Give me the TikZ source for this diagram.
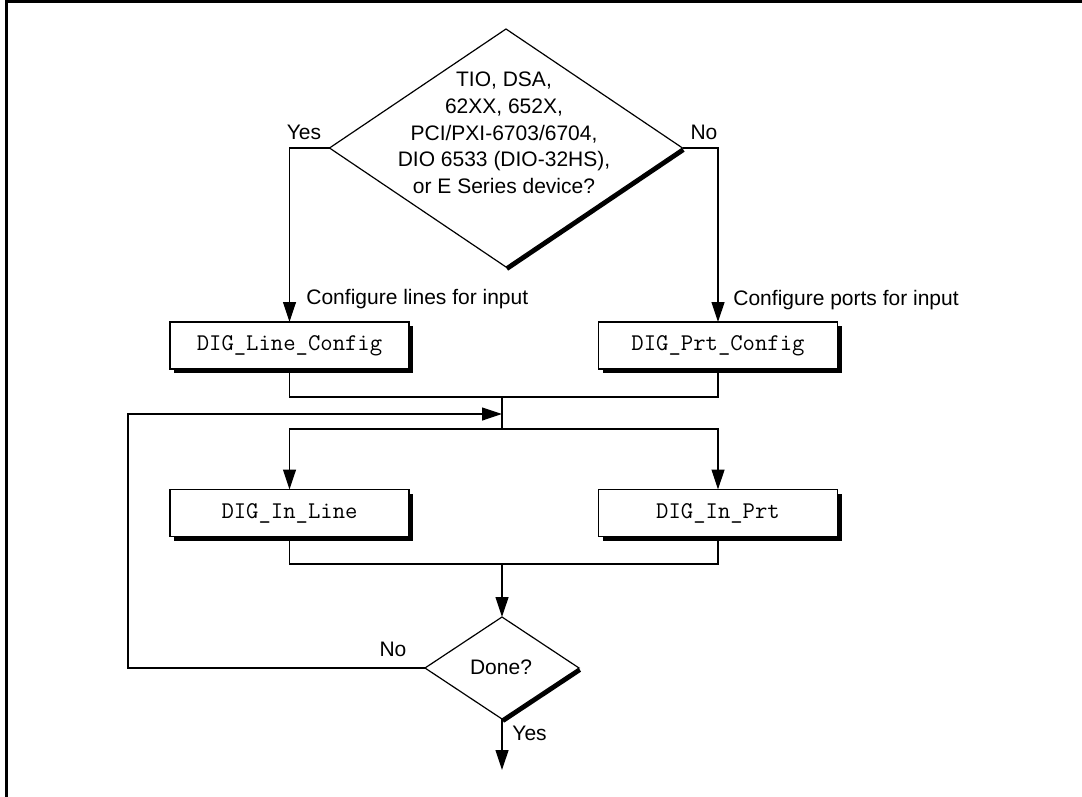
\documentclass[tikz,border=0pt]{standalone}
\usepackage{fontspec}
\setmainfont{Liberation Sans}
\usepackage{tikz}
\usetikzlibrary{arrows.meta}
\usetikzlibrary{positioning, shapes.geometric, shadows}
\tikzset{
call box/.style = { rectangle, draw = black, fill = white, line width = 0.6pt, minimum width = 119.5pt, minimum height = 23.5pt, inner sep = 0pt, outer sep = 0pt, font = \ttfamily\fontsize{12}{13}\selectfont, drop shadow = {shadow xshift = 2pt, shadow yshift = -2pt, fill = black, opacity = 1} },
test/.style = { diamond, draw = black, fill = white, line width = 0.6pt, inner sep = 0pt, outer sep = 0pt },
lbl/.style = { inner sep = 0pt, font = \fontsize{10.5}{13.35}\selectfont },
flow/.style = { draw = black, line width = 0.6pt },
arr/.style = { flow, -{Triangle[length = 10pt, width = 6.5pt]} },
}

\begin{document}
\begin{tikzpicture}[x=0.5pt, y=-0.5pt]
      \useasboundingbox (0,0) rectangle (1082,797);
      \draw[line width=1.5pt] (6,797) -- (6,1.5) -- (1082,1.5);
      \begin{scope}[every node/.style={lbl}]
        \node[test, minimum width=176.5pt, minimum height=119pt] (dev) at (506,148) {};
        \node[align=center] (devq) at (504,133) {TIO, DSA,\\62XX, 652X,\\PCI/PXI-6703/6704,\\DIO 6533 (DIO-32HS),\\or E Series device?};
        \node (yes1) at (304,132) {Yes};
        \node (no1) at (704,132) {No};
        \node[anchor=west] (lcfgl) at (306,299) {Configure lines for input};
        \node[anchor=west] (pcfgl) at (733,300) {Configure ports for input};
        \node[call box] (lcfg) at (289.5,345.5) {DIG\_Line\_Config};
        \node[call box] (pcfg) at (718,345.5) {DIG\_Prt\_Config};
        \node[call box] (lin) at (289.5,513) {DIG\_In\_Line};
        \node[call box] (pin) at (718,513) {DIG\_In\_Prt};
        \node[test, minimum width=77pt, minimum height=51pt] (done) at (502,668) {};
        \node (doneq) at (501,667) {Done?};
        \node (no2) at (393,649) {No};
        \node[anchor=west] (yes2) at (512,733) {Yes};
      \end{scope}
      \coordinate (join1) at (502,397);
      \coordinate (merge) at (502,414);
      \coordinate (split) at (502,429);
      \coordinate (join2) at (502,564);
      \coordinate (loop) at (128,414);
      \coordinate (exit) at (502,770);
      \draw[line width=2pt] ([shift={(1,2)}]dev.east) -- ([shift={(1,2)}]dev.south);
      \draw[line width=2pt] ([shift={(1,2)}]done.east) -- ([shift={(1,2)}]done.south);
      \draw[arr] (dev.west) -| (lcfg.north);
      \draw[arr] (dev.east) -| (pcfg.north);
      \draw[flow] (lcfg.south) |- (join1) -| (pcfg.south);
      \draw[flow] (join1) -- (split);
      \draw[arr] (split) -| (lin.north);
      \draw[arr] (split) -| (pin.north);
      \draw[flow] (lin.south) |- (join2) -| (pin.south);
      \draw[arr] (join2) -- (done.north);
      \draw[arr] (done.south) -- (exit);
      \draw[arr] (done.west) -| (loop) -- (merge);
    \end{tikzpicture}
\end{document}
